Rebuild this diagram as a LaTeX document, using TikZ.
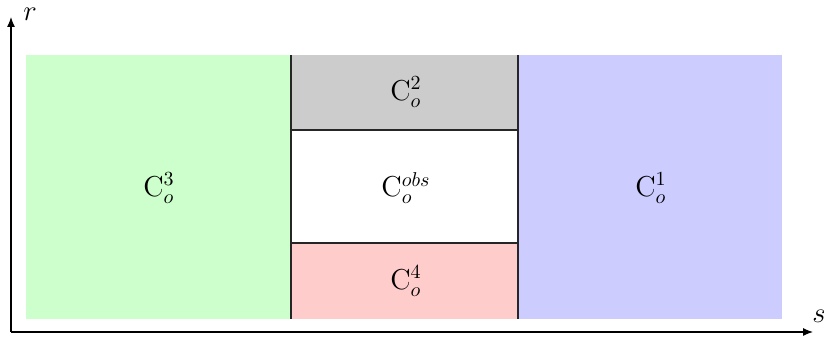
\documentclass[tikz,border=0pt]{standalone}
\usetikzlibrary{arrows.meta}
\begin{document}
\begin{tikzpicture}[x=0.5pt,y=-0.5pt,
  region/.style={anchor=center, font=\Large},
  sep/.style={draw=black!85, line width=0.7pt},
  axis/.style={draw=black, line width=0.6pt, -{Latex[length=5pt,width=4pt]}}]
\useasboundingbox (0,0) rectangle (824,340);
% fills
\fill[green!20] (26,55) rectangle (291,319);
\fill[black!20] (291,55) rectangle (518,130);
\fill[white] (291,130) rectangle (518,243);
\fill[red!20] (291,243) rectangle (518,319);
\fill[blue!20] (518,55) rectangle (782,319);
% separators
\draw[sep] (291,55) -- (291,319);
\draw[sep] (518,55) -- (518,319);
\draw[sep] (291,130) -- (518,130);
\draw[sep] (291,243) -- (518,243);
% labels
\node[region] (c3) at (159,188) {$\mathrm{C}_o^{3}$};
\node[region] (c2) at (406,92) {$\mathrm{C}_o^{2}$};
\node[region] (cobs) at (406,188) {$\mathrm{C}_o^{obs}$};
\node[region] (c4) at (406,281) {$\mathrm{C}_o^{4}$};
\node[region] (c1) at (651,188) {$\mathrm{C}_o^{1}$};
% axes
\coordinate (O) at (11,332);
\coordinate (ytip) at (11,17);
\coordinate (xtip) at (813,332);
\draw[axis] (O) -- (ytip);
\draw[axis] (O) -- (xtip);
\node[font=\Large] (rlab) at (30,14) {$r$};
\node[font=\Large] (slab) at (819,316) {$s$};
\end{tikzpicture}
\end{document}
